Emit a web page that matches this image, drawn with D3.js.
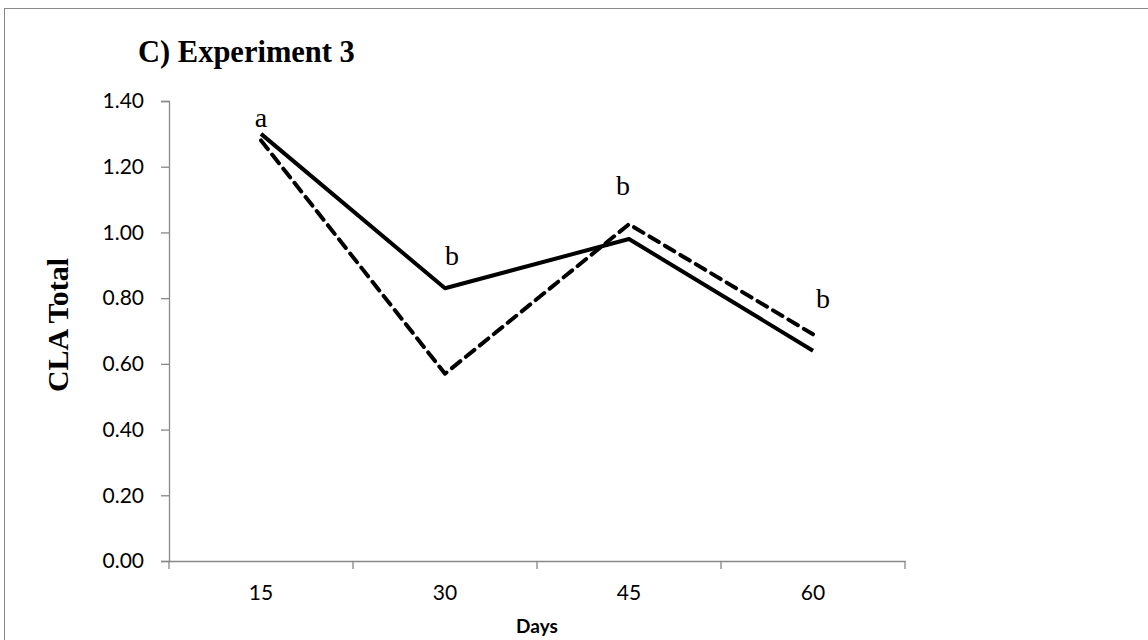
<!DOCTYPE html>
<html>
<head>
<meta charset="utf-8">
<script src="https://cdn.jsdelivr.net/npm/d3@7"></script>
<style>
  body { margin: 0; background: #fff; }
  text { fill: #000; }
</style>
</head>
<body>
<script>
// Data
var days = ["15", "30", "45", "60"];
var solidVals = [1.30, 0.83, 0.98, 0.64];
var dashedVals = [1.28, 0.57, 1.025, 0.69];
var letters = ["a", "b", "b", "b"];
var letterVals = [1.32, 0.90, 1.115, 0.77];
var yTicks = [0, 0.2, 0.4, 0.6, 0.8, 1.0, 1.2, 1.4];

var WIDTH = 1148, HEIGHT = 640;
var margin = {left: 169, top: 101, right: 243, bottom: 79};

var svg = d3.select("body").append("svg")
    .attr("width", WIDTH).attr("height", HEIGHT);

// outer border
svg.append("rect")
    .attr("x", 4.5).attr("y", 8.5)
    .attr("width", 1200).attr("height", 700)
    .attr("fill", "none").attr("stroke", "#888").attr("stroke-width", 1);

var x = d3.scaleBand().domain(days)
    .range([margin.left, WIDTH - margin.right]);
var y = d3.scaleLinear().domain([0, 1.4])
    .range([HEIGHT - margin.bottom, margin.top]);

// y axis
var yAxis = svg.append("g")
    .attr("transform", "translate(" + margin.left + ",0)")
    .call(d3.axisLeft(y).tickValues(yTicks).tickFormat(d3.format(".2f")).tickSize(8).tickPadding(17));
yAxis.selectAll("text").style("font-family", "Lato, 'Open Sans', sans-serif").style("font-size", "21px").attr("fill", "#000");
yAxis.select(".domain").attr("stroke", "#888").attr("stroke-width", 1.3);
yAxis.selectAll(".tick line").attr("stroke", "#888").attr("stroke-width", 1.3);

// x axis
var xAxis = svg.append("g")
    .attr("transform", "translate(0," + (HEIGHT - margin.bottom) + ")")
    .call(d3.axisBottom(x).tickSize(0).tickPadding(24));
xAxis.selectAll("text").style("font-family", "Lato, 'Open Sans', sans-serif").style("font-size", "21px").attr("fill", "#000");
xAxis.select(".domain").attr("stroke", "#888").attr("stroke-width", 1.3);
// boundary ticks between categories
var bounds = days.map(function(d) { return x(d); }).concat([x(days[days.length - 1]) + x.bandwidth()]);
xAxis.selectAll(".bound").data(bounds).enter().append("line")
    .attr("x1", function(d) { return d; }).attr("x2", function(d) { return d; })
    .attr("y1", 0).attr("y2", 8)
    .attr("stroke", "#888").attr("stroke-width", 1.3);

var line = d3.line()
    .x(function(d, i) { return x(days[i]) + x.bandwidth() / 2; })
    .y(function(d) { return y(d); });

svg.append("path").datum(dashedVals)
    .attr("d", line)
    .attr("fill", "none").attr("stroke", "#000").attr("stroke-width", 4)
    .attr("stroke-dasharray", "11,7").attr("stroke-linecap", "round")
    .attr("stroke-linejoin", "round");

svg.append("path").datum(solidVals)
    .attr("d", line)
    .attr("fill", "none").attr("stroke", "#000").attr("stroke-width", 4)
    .attr("stroke-linejoin", "round");

// significance letters
svg.selectAll(".letter").data(letters).enter().append("text")
    .attr("class", "letter")
    .attr("x", function(d, i) { return x(days[i]) + x.bandwidth() / 2 + [0, 7, -6, 10][i]; })
    .attr("y", function(d, i) { return y(letterVals[i]); })
    .attr("text-anchor", "middle")
    .style("font-family", "'Liberation Serif', 'Times New Roman', serif")
    .style("font-size", "28px")
    .text(function(d) { return d; });

// title
svg.append("text")
    .attr("x", 138).attr("y", 62)
    .style("font-family", "'Liberation Serif', 'Times New Roman', serif")
    .style("font-size", "30.5px").style("font-weight", "bold")
    .text("C) Experiment 3");

// y label
svg.append("text")
    .attr("transform", "translate(68,325) rotate(-90)")
    .attr("text-anchor", "middle")
    .style("font-family", "'Liberation Serif', 'Times New Roman', serif")
    .style("font-size", "30px").style("font-weight", "bold")
    .text("CLA Total");

// x label
svg.append("text")
    .attr("x", (margin.left + WIDTH - margin.right) / 2).attr("y", 633)
    .attr("text-anchor", "middle")
    .style("font-family", "Lato, 'Open Sans', sans-serif")
    .style("font-size", "19px").style("font-weight", "bold")
    .text("Days");
</script>
</body>
</html>
